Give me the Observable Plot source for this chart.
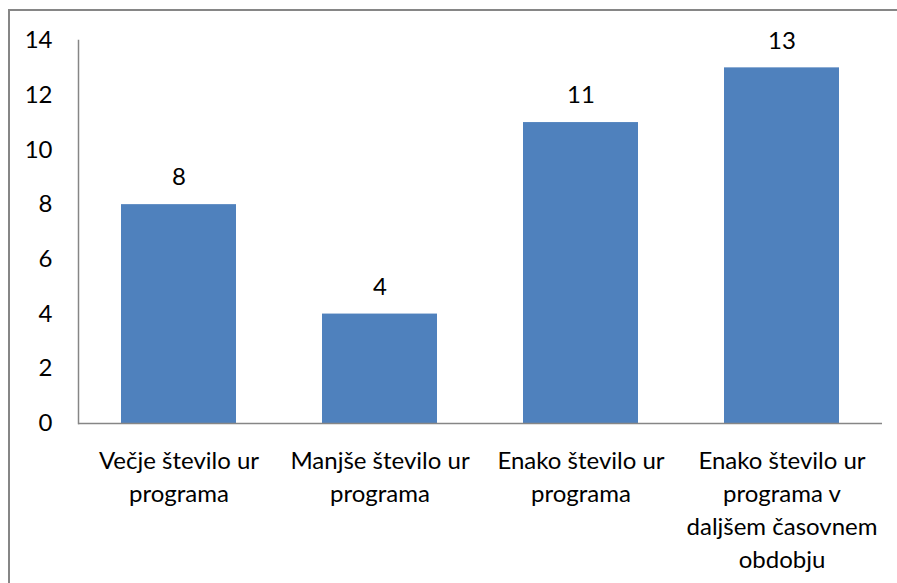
<!DOCTYPE html>
<html>
<head>
<meta charset="utf-8">
<script src="https://cdn.jsdelivr.net/npm/d3@7"></script>
<script src="https://cdn.jsdelivr.net/npm/@observablehq/plot@0.6"></script>
<style>
  html, body { margin: 0; padding: 0; background: #fff; overflow: hidden; }
  #wrap { position: relative; width: 897px; height: 583px; }
  #border { position: absolute; left: 8px; top: 9px; width: 1000px; height: 1000px;
            border-left: 2px solid #868686; border-top: 2px solid #868686; pointer-events: none; }
</style>
</head>
<body>
<div id="wrap"><div id="border"></div></div>
<script>
const categories = [
  "Večje število ur programa",
  "Manjše število ur programa",
  "Enako število ur programa",
  "Enako število ur programa v daljšem časovnem obdobju"
];
const tickLabels = [
  "Večje število ur\nprograma",
  "Manjše število ur\nprograma",
  "Enako število ur\nprograma",
  "Enako število ur\nprograma v\ndaljšem časovnem\nobdobju"
];
const values = [8, 4, 11, 13];
const yTicks = [0, 2, 4, 6, 8, 10, 12, 14];

const data = categories.map((c, i) => ({category: c, value: values[i]}));
const labelOf = new Map(categories.map((c, i) => [c, tickLabels[i]]));

const FS = 24;
const chart = Plot.plot({
  width: 897,
  height: 583,
  marginLeft: 78,
  marginRight: 15,
  marginTop: 40,
  marginBottom: 160,
  style: {fontFamily: "Lato, sans-serif", fontSize: FS + "px", color: "#000", background: "transparent"},
  x: {domain: categories, paddingInner: 0.428, paddingOuter: 0.214, label: null},
  y: {domain: [0, 14], label: null},
  marks: [
    Plot.barY(data, {x: "category", y: "value", fill: "#4F81BD"}),
    Plot.text(data, {x: "category", y: "value", text: d => String(d.value), dy: -27, lineAnchor: "middle", fill: "#000", fontSize: FS}),
    Plot.ruleY([0], {stroke: "#868686", strokeWidth: 1.5}),
    Plot.frame({anchor: "left", stroke: "#868686", strokeWidth: 1.5}),
    Plot.axisY({ticks: yTicks, tickSize: 0, tickPadding: 26, label: null, fontSize: FS, fill: "#000"}),
    Plot.axisX({tickSize: 0, tickPadding: 22, label: null, tickFormat: d => labelOf.get(d), lineHeight: 1.38, fontSize: FS, fill: "#000"})
  ]
});
document.getElementById("wrap").prepend(chart);
</script>
</body>
</html>
